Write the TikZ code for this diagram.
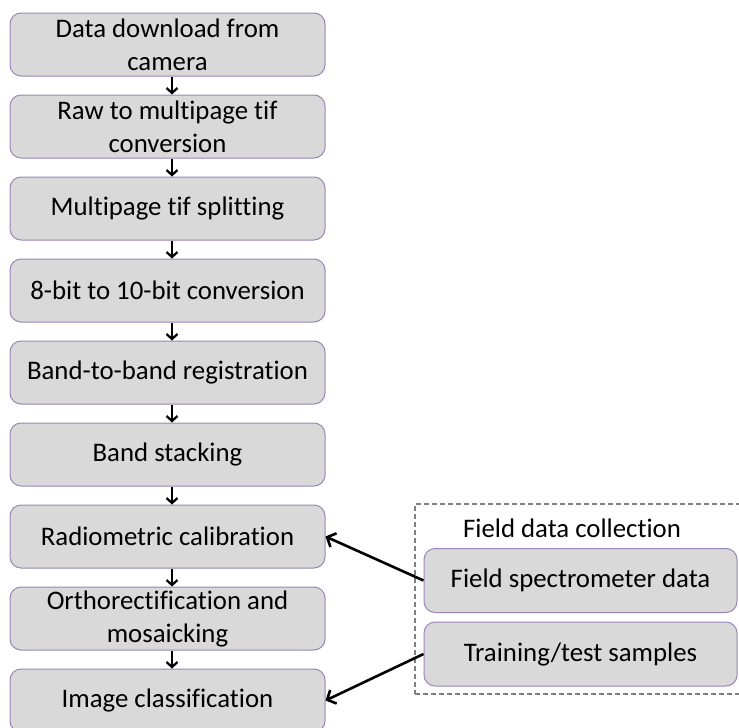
\documentclass[tikz,border=0pt]{standalone}
\usepackage{fontspec}
\setmainfont{Carlito}[Ligatures=NoCommon]
\usetikzlibrary{arrows.meta}
\definecolor{boxfill}{HTML}{D9D9D9}
\definecolor{boxline}{HTML}{9985BA}
\definecolor{dashline}{HTML}{7F7F7F}
\tikzset{
  stepbox/.style={draw=boxline, line width=1pt, fill=boxfill, rounded corners=11pt,
    minimum width=315pt, minimum height=63pt, align=center, inner sep=0pt,
    font=\fontsize{26.8}{33}\selectfont},
  fieldbox/.style={stepbox, minimum width=313pt, minimum height=64pt},
  flow/.style={-{Straight Barb[length=5pt,width=11pt,line width=2.2pt]}, line width=2.2pt, black},
  feed/.style={-{Straight Barb[length=7pt,width=15pt,line width=2.6pt]}, line width=2.6pt, black}
}
\begin{document}
\begin{tikzpicture}[x=1pt,y=-1pt]
\useasboundingbox (0,0) rectangle (739,728);
\clip (0,0) rectangle (739,728);
\node[stepbox] (b1) at (167.5,44.5) {Data download from\\camera};
\node[stepbox] (b2) at (167.5,126.5) {Raw to multipage tif\\conversion};
\node[stepbox] (b3) at (167.5,208.5) {Multipage tif splitting};
\node[stepbox] (b4) at (167.5,290.5) {8-bit to 10-bit conversion};
\node[stepbox] (b5) at (167.5,372.5) {Band-to-band registration};
\node[stepbox] (b6) at (167.5,454.5) {Band stacking};
\node[stepbox] (b7) at (167.5,536.5) {Radiometric calibration};
\node[stepbox] (b8) at (167.5,618.5) {Orthorectification and\\mosaicking};
\node[stepbox] (b9) at (167.5,700.5) {Image classification};
\foreach \a/\b in {b1/b2,b2/b3,b3/b4,b4/b5,b5/b6,b6/b7,b7/b8,b8/b9}
  \draw[flow] ([xshift=4.5pt]\a.south) -- ([xshift=4.5pt]\b.north);
\node[draw=dashline, dash pattern=on 5pt off 3pt, line width=1.5pt, minimum width=340pt, minimum height=190pt, inner sep=0pt, anchor=north west] (grp) at (414,503) {};
\node[font=\fontsize{26.8}{33}\selectfont] (glabel) at (572,528) {Field data collection};
\node[fieldbox] (f1) at (580.5,580.5) {Field spectrometer data};
\node[fieldbox] (f2) at (580.5,654) {Training/test samples};
\draw[feed] (f1.west) -- (b7.east);
\draw[feed] (f2.west) -- (b9.east);
\end{tikzpicture}
\end{document}
